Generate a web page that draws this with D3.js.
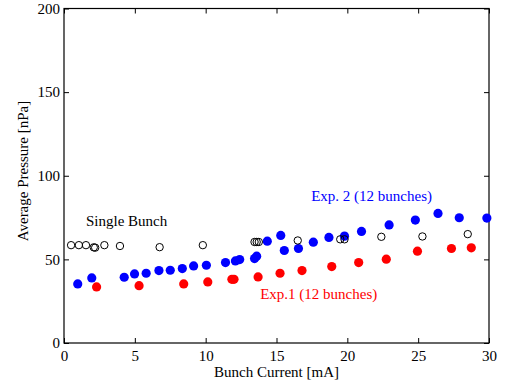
<!DOCTYPE html>
<html>
<head>
<meta charset="utf-8">
<script src="https://cdn.jsdelivr.net/npm/d3@7"></script>
<style>
  body { margin: 0; background: #fff; }
  svg text { font-family: "Liberation Serif", "DejaVu Serif", "Times New Roman", serif !important; }
</style>
</head>
<body>
<script>
// single bunch (open circles)
var singleX = [0.5, 1.05, 1.55, 2.1, 2.2, 2.85, 3.95, 6.75, 9.8, 13.45, 13.6, 13.75, 16.5, 19.5, 19.8, 22.4, 25.3, 28.5];
var singleY = [58.5, 58.5, 58.5, 57.2, 57.0, 58.5, 58.0, 57.3, 58.5, 60.4, 60.4, 60.4, 61.3, 62, 62, 63.5, 63.7, 65.1];

// Exp. 2 (blue)
var exp2X = [0.97, 1.96, 4.25, 4.98, 5.8, 6.7, 7.5, 8.35, 9.15, 10.05, 11.4, 12.1, 12.4, 13.45, 13.6, 14.35, 15.3, 15.55, 16.55, 17.6, 18.7, 19.8, 21.0, 22.95, 24.8, 26.4, 27.9, 29.85];
var exp2Y = [35.3, 38.9, 39.3, 41.3, 41.7, 43.3, 43.5, 44.5, 46.1, 46.5, 48.1, 49.1, 49.9, 50.5, 51.9, 60.9, 64.3, 55.3, 56.5, 60.3, 63.1, 63.9, 66.7, 70.6, 73.5, 77.5, 74.9, 74.7];

// Exp.1 (red)
var exp1X = [2.3, 5.3, 8.45, 10.15, 11.85, 12.0, 13.7, 15.25, 16.8, 18.9, 20.8, 22.75, 24.95, 27.35, 28.75];
var exp1Y = [33.5, 34.3, 35.3, 36.5, 38.1, 38.1, 39.5, 41.7, 43.3, 45.7, 48.1, 50.1, 54.9, 56.5, 56.9];

var xTicks = [0, 5, 10, 15, 20, 25, 30];
var yTicks = [0, 50, 100, 150, 200];

var width = 506, height = 383;
var margin = {left: 64, right: 17, top: 8.5, bottom: 40};
var w = width - margin.left - margin.right;
var h = height - margin.top - margin.bottom;
var serif = "Liberation Serif, DejaVu Serif, serif";

var svg = d3.select("body").append("svg").attr("width", width).attr("height", height);
var g = svg.append("g").attr("transform", "translate(" + margin.left + "," + margin.top + ")");

var x = d3.scaleLinear().domain([0, 30]).range([0, w]);
var y = d3.scaleLinear().domain([0, 200]).range([h, 0]);

function styleAxis(sel, labels) {
  sel.attr("font-family", serif);
  sel.select(".domain").remove();
  sel.selectAll("line").attr("stroke", "#000");
  sel.selectAll("text").attr("font-size", 15).attr("fill", "#000");
  if (!labels) sel.selectAll("text").remove();
}

// bottom / left with labels, inward ticks
g.append("g").attr("transform", "translate(0," + h + ")")
  .call(d3.axisBottom(x).tickValues(xTicks).tickSize(-5).tickPadding(7))
  .call(styleAxis, true);
g.append("g")
  .call(d3.axisLeft(y).tickValues(yTicks).tickSize(-5).tickPadding(4))
  .call(styleAxis, true);
// top / right ticks only
g.append("g")
  .call(d3.axisTop(x).tickValues(xTicks).tickSize(-5))
  .call(styleAxis, false);
g.append("g").attr("transform", "translate(" + w + ",0)")
  .call(d3.axisRight(y).tickValues(yTicks).tickSize(-5))
  .call(styleAxis, false);

g.append("rect").attr("width", w).attr("height", h)
  .attr("fill", "none").attr("stroke", "#000").attr("stroke-width", 1.2);

g.append("g").selectAll("circle").data(exp1X).enter().append("circle")
  .attr("cx", function(d){ return x(d); })
  .attr("cy", function(d, i){ return y(exp1Y[i]); })
  .attr("r", 4.6).attr("fill", "#ff0000");

g.append("g").selectAll("circle").data(exp2X).enter().append("circle")
  .attr("cx", function(d){ return x(d); })
  .attr("cy", function(d, i){ return y(exp2Y[i]); })
  .attr("r", 4.6).attr("fill", "#0000ff");

g.append("g").selectAll("circle").data(singleX).enter().append("circle")
  .attr("cx", function(d){ return x(d); })
  .attr("cy", function(d, i){ return y(singleY[i]); })
  .attr("r", 3.7).attr("fill", "none").attr("stroke", "#000").attr("stroke-width", 1);

// annotations
var notes = g.append("g").attr("font-family", serif).attr("font-size", 15);
notes.append("text").attr("x", x(1.55)).attr("y", y(70)).attr("fill", "#000")
  .text("Single Bunch");
notes.append("text").attr("x", x(17.45)).attr("y", y(84.8)).attr("fill", "#0000ff")
  .text("Exp. 2 (12 bunches)");
notes.append("text").attr("x", x(13.85)).attr("y", y(26.5)).attr("fill", "#ff0000")
  .text("Exp.1 (12 bunches)");

// axis titles
svg.append("text").attr("x", margin.left + w / 2).attr("y", 377)
  .attr("font-family", serif).attr("text-anchor", "middle").attr("font-size", 15).text("Bunch Current [mA]");
svg.append("text").attr("transform", "translate(28,171) rotate(-90)")
  .attr("font-family", serif).attr("text-anchor", "middle").attr("font-size", 15).text("Average Pressure [nPa]");
</script>
</body>
</html>
